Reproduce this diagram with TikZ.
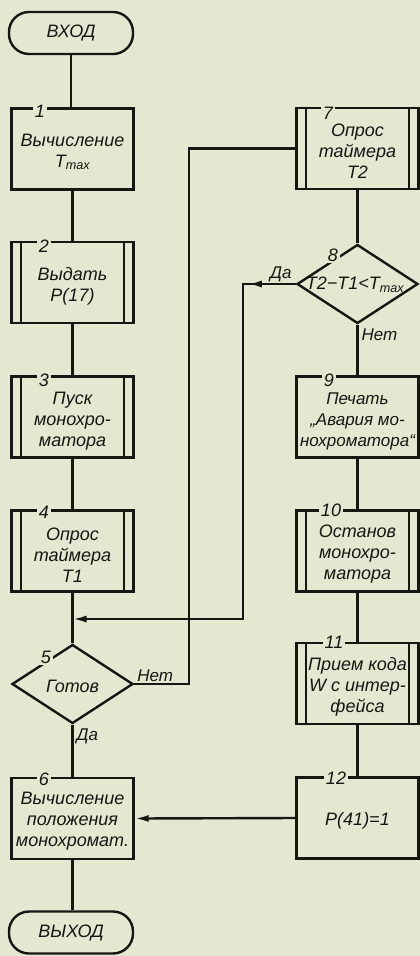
\documentclass[tikz,border=0pt]{standalone}
\usepackage{fontspec}
\setmainfont{Liberation Sans}
\usetikzlibrary{shapes.geometric,arrows.meta,decorations.markings,calc}
\definecolor{paper}{RGB}{229,232,208}
\definecolor{ink}{RGB}{22,22,18}
\begin{document}
\begin{tikzpicture}[x=1pt,y=-1pt,
  every node/.style={font=\itshape\fontsize{18}{21}\selectfont, text=ink},
  box/.style={draw=ink, line width=2.4pt, minimum width=122pt, minimum height=81pt, inner sep=0pt},
  term/.style={draw=ink, line width=2.4pt, rounded corners=20pt, minimum width=124pt, minimum height=42pt, inner sep=0pt},
  dia/.style={diamond, draw=ink, line width=2.4pt, minimum width=121pt, minimum height=79pt, inner sep=0pt},
  txt/.style={align=center, inner sep=0pt},
  num/.style={fill=paper, inner sep=1.5pt},
  lbl/.style={font=\itshape\fontsize{17}{19}\selectfont, inner sep=1pt},
  conn/.style={draw=ink, line width=2.4pt},
  tip/.style={-{Latex[length=14pt,width=7pt]}},
  midtip/.style={postaction={decorate}, decoration={markings, mark=at position #1 with {\arrow{Latex[length=14pt,width=7pt]}}}},
]
\fill[paper] (0,0) rectangle (420,956);
\useasboundingbox (0,0) rectangle (420,956);

% left column
\node[term] (start) at (71,33) {ВХОД};
\node[box] (b1) at (72.5,149) {};
\node[box] (b2) at (72.5,282.5) {};
\node[box] (b3) at (72.5,417) {};
\node[box] (b4) at (72.5,551) {};
\node[dia] (d5) at (72.5,684) {};
\node[box] (b6) at (72.5,818.5) {};
\node[term] (stop) at (71,932.5) {ВЫХОД};

% right column
\node[box] (b7) at (357.5,148.5) {};
\node[dia] (d8) at (357.5,284) {};
\node[box] (b9) at (357.5,417) {};
\node[box] (b10) at (357.5,551) {};
\node[box] (b11) at (357.5,683.5) {};
\node[box] (b12) at (357.5,818) {};

% predefined process side bars
\foreach \n in {b2,b3,b4,b7,b10,b11}{
  \draw[ink, line width=2.2pt] ([xshift=11pt]\n.north west) -- ([xshift=11pt]\n.south west);
  \draw[ink, line width=2.2pt] ([xshift=-11pt]\n.north east) -- ([xshift=-11pt]\n.south east);
}

% texts
\node[txt] (t1) at (72.5,152) {Вычисление\\T\textsubscript{max}};
\node[txt] (t2) at (72.5,286) {Выдать\\P(17)};
\node[txt] (t3) at (72.5,421) {Пуск\\монохро-\\матора};
\node[txt] (t4) at (72.5,555) {Опрос\\таймера\\T1};
\node[txt] (t5) at (72.5,686) {Готов};
\node[txt] (t6) at (72.5,821) {Вычисление\\положения\\монохромат.};
\node[txt] (t7) at (357.5,151) {Опрос\\таймера\\T2};
\node[txt] (t8) at (355,285) {T2−T1<T\textsubscript{max}};
\node[txt, font=\itshape\fontsize{17}{21}\selectfont] (t9) at (357.5,421) {Печать\\„Авария мо-\\нохроматора“};
\node[txt] (t10) at (357.5,554) {Останов\\монохро-\\матора};
\node[txt] (t11) at (357.5,687) {Прием кода\\W с интер-\\фейса};
\node[txt] (t12) at (357.5,821) {P(41)=1};

% connectors
\draw[conn] (start.south) -- (start.south |- b1.north);
\draw[conn] (b1.south) -- (b2.north);
\draw[conn] (b2.south) -- (b3.north);
\draw[conn] (b3.south) -- (b4.north);
\draw[conn] (b4.south) -- (d5.north);
\draw[conn] (d5.south) -- (b6.north);
\draw[conn] (b6.south) -- (b6.south |- stop.north);

\draw[conn] (b7.south) -- (d8.north);
\draw[conn] (d8.south) -- (b9.north);
\draw[conn] (b9.south) -- (b10.north);
\draw[conn] (b10.south) -- (b11.north);
\draw[conn] (b11.south) -- (b12.north);

\coordinate (c5) at (189,684);
\draw[conn] (d5.east) -- (c5) |- (b7.west);

\coordinate (c8a) at (243,284);
\coordinate (c8b) at (243,619);
\coordinate (m5) at (72.5,619);
\draw[conn, tip, midtip=48pt] (d8.west) -- (c8a) -- (c8b) -- (m5);

\draw[conn, tip] (b12.west) -- (b6.east);

% numbers
\node[num] (n1) at (40,111) {1};
\node[num] (n2) at (44,246) {2};
\node[num] (n3) at (44,380) {3};
\node[num] (n4) at (44,512) {4};
\node[num] (n5) at (46,657) {5};
\node[num] (n6) at (44,779) {6};
\node[num] (n7) at (328,113) {7};
\node[num] (n8) at (333,255) {8};
\node[num] (n9) at (329,380) {9};
\node[num] (n10) at (331,510) {10};
\node[num] (n11) at (334,642) {11};
\node[num] (n12) at (336,778) {12};

% branch labels
\node[lbl, anchor=south west] (l5n) at ([xshift=2pt,yshift=1pt]d5.east) {Нет};
\node[lbl, anchor=north west] (l5y) at ([xshift=3pt,yshift=-3pt]d5.south) {Да};
\node[lbl, anchor=south east] (l8y) at ([xshift=-3pt,yshift=1pt]d8.west) {Да};
\node[lbl, anchor=north west] (l8n) at ([xshift=3pt,yshift=-3pt]d8.south) {Нет};
\end{tikzpicture}
\end{document}
